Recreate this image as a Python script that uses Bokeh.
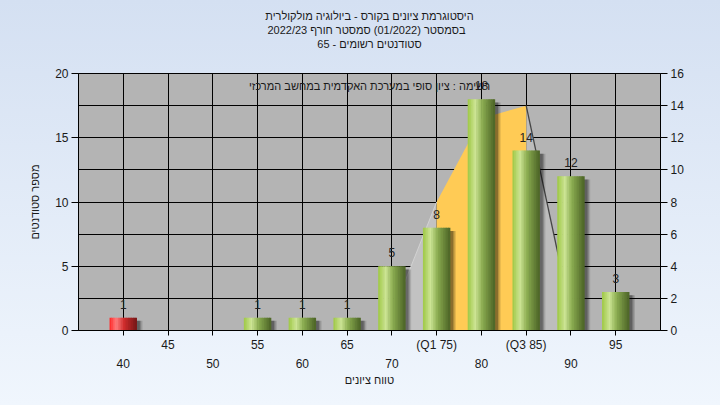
import numpy as np
from bokeh.plotting import figure
from bokeh.models import (ColumnDataSource, Range1d, LinearAxis, FixedTicker, Title, Label,
                          GlobalInlineStyleSheet)
from bokeh.transform import dodge
from bokeh.core.properties import value
from bokeh.embed import file_html
from bokeh.resources import INLINE

# ---------------- data ----------------
categories = ["40", "45", "50", "55", "60", "65", "70", "75", "80", "85", "90", "95"]
tick_labels = ["40", "45", "50", "55", "60", "65", "70", "(Q1 75)", "80", "(Q3 85)", "90", "95"]
counts = [1, 0, 0, 1, 1, 1, 5, 8, 18, 14, 12, 3]
failing = [True, False, False, False, False, False, False, False, False, False, False, False]

# quartile area (right axis units)
area_cats = ["70", "75", "80", "85", "90"]
area_values = [1, 8, 13.2, 14, 1]

left_ticks = [0, 5, 10, 15, 20]
right_ticks = [0, 2, 4, 6, 8, 10, 12, 14, 16]

title_lines = ["היסטוגרמת ציונים בקורס - ביולוגיה מולקולרית",
               "בסמסטר  (01/2022)  סמסטר חורף 2022/23",
               "סטודנטים רשומים - 65"]
note_text = "רשימה : ציון סופי במערכת האקדמית במחשב המרכזי"
y_label = "מספר סטודנטים"
x_label = "טווח ציונים"

FONT = "Liberation Sans"
RLE, PDF = "\u202b", "\u202c"

idx = list(range(len(categories)))
area_x = [categories.index(c) for c in area_cats]

# ---------------- figure ----------------
p = figure(width=704, height=389, output_backend="svg", toolbar_location=None,
           x_range=Range1d(-1, 12), y_range=Range1d(0, 20),
           min_border_left=78, min_border_right=44, min_border_top=73, min_border_bottom=59,
           background_fill_color="#b4b4b4", border_fill_color=None,
           outline_line_color="black", outline_line_width=1)
p.stylesheets = [GlobalInlineStyleSheet(
    css="html,body{background:linear-gradient(#d4e0f2,#f0f6fd) fixed;}")]

p.extra_y_ranges = {"right": Range1d(0, 16)}

# grids
p.xgrid.ticker = FixedTicker(ticks=idx)
p.ygrid.ticker = FixedTicker(ticks=[t * 1.25 for t in right_ticks])
for g in (p.xgrid[0], p.ygrid[0]):
    g.grid_line_color = "black"
    g.grid_line_alpha = 1.0
    g.grid_line_width = 1

def style_axis(ax):
    ax.major_label_text_font = FONT
    ax.major_label_text_font_size = "12px"
    ax.major_label_text_color = "#1a1a1a"
    ax.axis_line_color = "black"
    ax.major_tick_line_color = "black"
    ax.minor_tick_line_color = None
    ax.axis_label_text_font = FONT
    ax.axis_label_text_font_size = "11px"
    ax.axis_label_text_font_style = "normal"
    ax.axis_label_text_color = "#1a1a1a"

# left axis
ly = p.yaxis[0]
style_axis(ly)
ly.ticker = FixedTicker(ticks=left_ticks)
ly.major_tick_out = 7
ly.major_tick_in = 0
ly.major_label_standoff = 3
ly.axis_label = y_label
ly.axis_label_standoff = 11

# right axis
ry = LinearAxis(y_range_name="right", ticker=FixedTicker(ticks=right_ticks))
style_axis(ry)
ry.major_tick_out = 7
ry.major_tick_in = 0
ry.major_label_standoff = 3
p.add_layout(ry, "right")

# bottom axis row 1 (odd labels) with ticks
bx = p.xaxis[0]
style_axis(bx)
bx.ticker = FixedTicker(ticks=idx)
bx.major_tick_out = 5
bx.major_tick_in = 0
bx.major_label_standoff = 2
bx.major_label_overrides = {i: (tick_labels[i] if i % 2 == 1 else "") for i in idx}

# bottom axis row 2 (even labels)
bx2 = LinearAxis(ticker=FixedTicker(ticks=idx))
style_axis(bx2)
bx2.axis_line_color = None
bx2.major_tick_line_color = None
bx2.major_tick_out = 0
bx2.major_tick_in = 0
bx2.major_label_standoff = 4
bx2.major_label_overrides = {i: (tick_labels[i] if i % 2 == 0 else "") for i in idx}
bx2.axis_label = x_label
bx2.axis_label_standoff = 3
p.add_layout(bx2, "below")

# ---------------- quartile area ----------------
p.varea(x=area_x[0:2], y1=0, y2=area_values[0:2], y_range_name="right",
        fill_color="#c2c2c2")
p.varea(x=area_x[3:5], y1=0, y2=area_values[3:5], y_range_name="right",
        fill_color="#bdbdbd")
p.varea(x=area_x[1:4], y1=0, y2=area_values[1:4], y_range_name="right",
        fill_color="#ffcb55")
p.line(x=area_x[0:2], y=area_values[0:2], y_range_name="right",
       line_color="#d2d2d2", line_width=1)
p.line(x=area_x[3:5], y=area_values[3:5], y_range_name="right",
       line_color="#454545", line_width=1.3)

# ---------------- bars (cylinder look) ----------------
BAR_W = 0.6
green_stops = [(0.0, (158, 200, 68)), (0.28, (204, 228, 148)), (0.55, (138, 172, 80)), (1.0, (76, 100, 38))]
red_stops = [(0.0, (255, 36, 36)), (0.25, (255, 125, 125)), (0.55, (206, 42, 42)), (1.0, (118, 24, 24))]

def interp(stops, t):
    for (t0, c0), (t1, c1) in zip(stops[:-1], stops[1:]):
        if t0 <= t <= t1:
            f = (t - t0) / (t1 - t0)
            c = [int(round(a + (b - a) * f)) for a, b in zip(c0, c1)]
            return "#%02x%02x%02x" % tuple(c)
    return "#%02x%02x%02x" % stops[-1][1]

N = 16
sw = BAR_W / N
data = dict(x=idx, top=counts,
            shadow_top=[max(c - 0.25, 0) if c > 0 else 0 for c in counts])
for j in range(N):
    t = (j + 0.5) / N
    data["c%d" % j] = [interp(red_stops if f else green_stops, t) for f in failing]
src = ColumnDataSource(data)

# shadow
for off, a in [(0.13, 0.12), (0.10, 0.18), (0.07, 0.25)]:
    p.vbar(x=dodge("x", off), top="shadow_top", bottom=0, width=BAR_W, source=src,
           fill_color="black", fill_alpha=a, line_color=None)

for j in range(N):
    off = -BAR_W / 2 + sw * (j + 0.5)
    p.vbar(x=dodge("x", off), top="top", bottom=0, width=sw * 1.35, source=src,
           fill_color="c%d" % j, line_color=None)

# value labels
lab = ColumnDataSource(dict(
    x=[i for i, c in zip(idx, counts) if c > 0],
    y=[c for c in counts if c > 0],
    t=[str(c) for c in counts if c > 0]))
p.text(x="x", y="y", text="t", source=lab, text_align="center", text_baseline="bottom",
       y_offset=-9, text_font=value(FONT), text_font_size="12px", text_color="#222222")

# note inside plot
p.add_layout(Label(x=5.5, y=19, text=RLE + note_text + PDF, text_align="center",
                   text_baseline="middle", text_font=FONT, text_font_size="11px",
                   text_color="#1a1a1a"))

# titles, added nearest-first; the last line carries two empty lines as a gap above the frame
for k, line in enumerate(reversed(title_lines)):
    txt = RLE + line + PDF + ("\n\n" if k == 0 else "")
    p.add_layout(Title(text=txt, align="center", text_font=FONT, text_font_size="11px",
                       text_font_style="normal", text_color="#1a1a1a", standoff=0,
                       text_line_height=1.0), "above")

p.title.visible = False

open("out.html", "w").write(file_html(p, INLINE))
